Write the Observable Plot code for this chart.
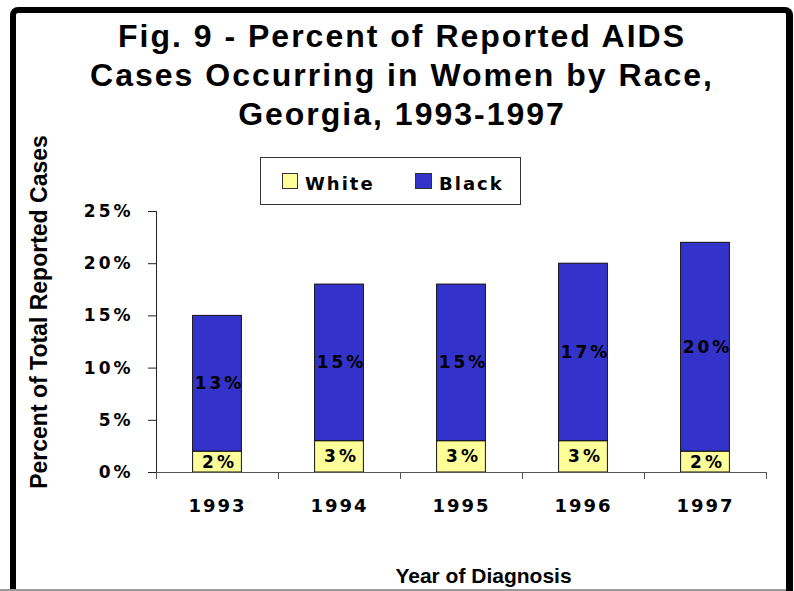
<!DOCTYPE html>
<html>
<head>
<meta charset="utf-8">
<script src="https://cdn.jsdelivr.net/npm/d3@7"></script>
<script src="https://cdn.jsdelivr.net/npm/@observablehq/plot@0.6"></script>
<style>
  body { margin: 0; background: #fff; }
  #chart { position: relative; width: 794px; height: 591px; overflow: hidden; background: #fff; }
  #chart .frame { position: absolute; left: 10px; top: 7px; width: 783px; height: 640px; box-sizing: border-box;
    border-left: 6px solid #000; border-top: 6px solid #000; border-right: 7px solid #000; border-radius: 8px 8px 0 0; }
  #chart .baseline { position: absolute; left: 0; top: 589px; width: 786px; height: 2px; background: #9a9a9a; }
  #chart svg { position: absolute; left: 0; top: 0; }
  #chart .title { position: absolute; left: 10px; width: 784px; top: 17px; text-align: center;
    font: bold 32px "Liberation Sans", Arial, sans-serif; line-height: 39px; letter-spacing: 2px; color: #000; }
  #chart .ytitle { position: absolute; left: 39px; top: 312px; transform: translate(-50%, -50%) rotate(-90deg);
    white-space: nowrap; font: bold 23px "Liberation Sans", Arial, sans-serif; line-height: 1; color: #000; }
  #chart .xtitle { position: absolute; left: 383px; width: 201px; top: 565px; text-align: center; white-space: nowrap;
    font: bold 21px "Liberation Sans", Arial, sans-serif; line-height: 21px; color: #000; }
  #chart .legend { position: absolute; left: 260px; top: 157px; width: 261px; height: 48px; box-sizing: border-box;
    border: 1px solid #333; background: #fff; }
  #chart .swatch { position: absolute; box-sizing: border-box; border: 1px solid #333; }
  #chart .ltext { position: absolute; font: bold 18px "DejaVu Sans", sans-serif; line-height: 18px; letter-spacing: 2px; color: #000; white-space: nowrap; }
  #chart svg [aria-label="y-axis tick label"] text { letter-spacing: 3px; }
  #chart svg [aria-label="x-axis tick label"] text { letter-spacing: 2px; font-size: 18px; }
  #chart svg [aria-label="text"] text { letter-spacing: 3px; }
</style>
</head>
<body>
<div id="chart">
  <div class="frame"></div>
  <div class="baseline"></div>
</div>
<script>
// Percent of reported AIDS cases occurring in women, by race, Georgia 1993-1997
const years = [1993, 1994, 1995, 1996, 1997];
const races = ["White", "Black"];
const raceColors = ["#FFFF99", "#3333CC"];
const whitePct = [2, 3, 3, 3, 2];
const blackPct = [13, 15, 15, 17, 20];
const yTicks = [0, 5, 10, 15, 20, 25];
const titleLines = ["Fig. 9 - Percent of Reported AIDS", "Cases Occurring in Women by Race,", "Georgia, 1993-1997"];
const yTitle = "Percent of Total Reported Cases";
const xTitle = "Year of Diagnosis";

// stacked segments: White at the bottom, Black on top
const rows = years.flatMap((year, i) => [
  {year, race: "White", value: whitePct[i], y1: 0, y2: whitePct[i]},
  {year, race: "Black", value: blackPct[i], y1: whitePct[i], y2: whitePct[i] + blackPct[i]}
]);
// category boundaries for the x-axis tick marks
const bounds = [years[0] - 0.5, ...years.map(y => y + 0.5)];
const half = 0.2; // half bar width in years

const plot = Plot.plot({
  width: 794,
  height: 591,
  marginLeft: 156,
  marginRight: 28,
  marginTop: 211,
  marginBottom: 119,
  style: {fontFamily: "DejaVu Sans, sans-serif", fontWeight: "bold", fontSize: "17px", color: "#000", background: "transparent", overflow: "visible"},
  x: {type: "linear", domain: [bounds[0], bounds[bounds.length - 1]]},
  y: {domain: [0, 25]},
  color: {type: "ordinal", domain: races, range: raceColors},
  marks: [
    Plot.rect(rows, {x1: d => d.year - half, x2: d => d.year + half, y1: "y1", y2: "y2",
      fill: d => raceColors[races.indexOf(d.race)], stroke: "#111", strokeWidth: 1}),
    Plot.text(rows, {x: "year", y: d => (d.y1 + d.y2) / 2, text: d => d.value + "%", dx: 2, fill: "#000"}),
    Plot.axisY({ticks: yTicks, tickFormat: d => d + "%", tickSize: 8, tickPadding: 15, label: null, stroke: "#222"}),
    Plot.axisX({ticks: bounds, tickFormat: () => "", tickSize: 7, label: null, stroke: "#555"}),
    Plot.axisX({ticks: years, tickFormat: d => String(d), tickSize: 0, tickPadding: 27, label: null}),
    Plot.ruleX([bounds[0]], {y1: 0, y2: 25, stroke: "#222"}),
    Plot.ruleY([0], {stroke: "#555"})
  ]
});

const chart = document.getElementById("chart");
chart.appendChild(plot);

const title = document.createElement("div");
title.className = "title";
title.innerHTML = titleLines.join("<br>");
chart.appendChild(title);

const yt = document.createElement("div");
yt.className = "ytitle";
yt.textContent = yTitle;
chart.appendChild(yt);

const xt = document.createElement("div");
xt.className = "xtitle";
xt.textContent = xTitle;
chart.appendChild(xt);

// legend
const legend = document.createElement("div");
legend.className = "legend";
chart.appendChild(legend);
const legendItems = [
  {swatch: [282, 173, 16, 16], text: [305, 175]},
  {swatch: [415, 173, 17, 16], text: [439, 175]}
];
races.forEach((race, i) => {
  const it = legendItems[i];
  const sw = document.createElement("div");
  sw.className = "swatch";
  Object.assign(sw.style, {left: it.swatch[0] + "px", top: it.swatch[1] + "px", width: it.swatch[2] + "px", height: it.swatch[3] + "px", background: raceColors[i]});
  chart.appendChild(sw);
  const tx = document.createElement("div");
  tx.className = "ltext";
  Object.assign(tx.style, {left: it.text[0] + "px", top: it.text[1] + "px"});
  tx.textContent = race;
  chart.appendChild(tx);
});
</script>
</body>
</html>
